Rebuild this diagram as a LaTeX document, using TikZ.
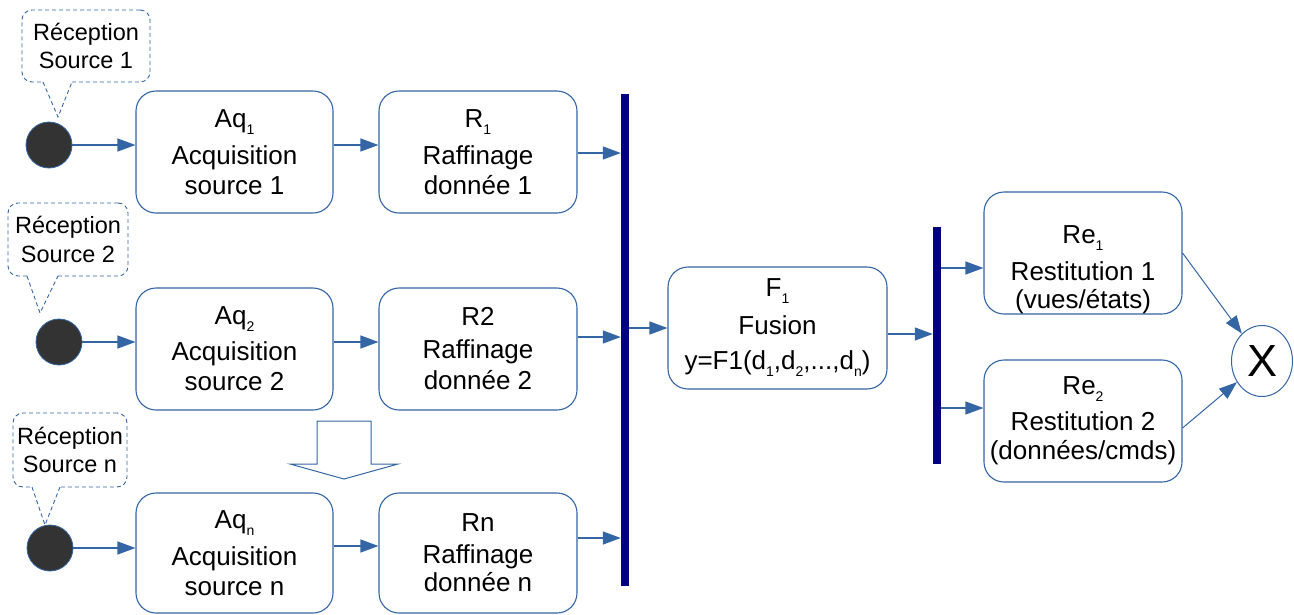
\documentclass[tikz,border=0pt]{standalone}
\usepackage{fontspec}
\setmainfont{Liberation Sans}
\usetikzlibrary{arrows.meta,calc,shapes.geometric}
\definecolor{lineblue}{HTML}{3465A4}
\definecolor{bardark}{HTML}{000080}
\definecolor{dotfill}{HTML}{333333}
% lowered small index, as in Aq_1
\newcommand\idx[1]{\raisebox{-7pt}{\fontsize{14}{14}\selectfont #1}}

\begin{document}
\begin{tikzpicture}[x=1pt,y=-1pt,
  box/.style={draw=lineblue, line width=1.1pt, rounded corners=20pt, fill=white,
    minimum width=197pt, minimum height=122pt, inner sep=0pt, align=center,
    font=\fontsize{26}{30}\selectfont},
  boxtext/.style={inner sep=0pt, align=center, font=\fontsize{26}{30}\selectfont},
  callout/.style={draw=lineblue, line width=0.9pt, dash pattern=on 4pt off 3pt},
  calloutbox/.style={callout, rounded corners=10pt, inner sep=0pt, align=center,
    font=\fontsize{23.5}{28.5}\selectfont},
  src/.style={circle, fill=dotfill, draw=lineblue, line width=0.8pt,
    minimum size=46pt, inner sep=0pt},
  bar/.style={fill=bardark, draw=none, minimum width=8pt, inner sep=0pt},
  flow/.style={draw=lineblue, line width=1.2pt, -{Triangle[length=18pt,width=13pt]}},
  blockarrow/.style={draw=lineblue, line width=1pt, fill=white}
]
\useasboundingbox (0,0) rectangle (1294,614);

% ---- reception callouts ----
\node[calloutbox, minimum width=128pt, minimum height=72pt] (cb1) at (86,46) {Réception\\Source 1};
\fill[white] (44,80) rectangle (71,84);
\draw[callout] (43,82) -- (58,117) -- (72,82);

\node[calloutbox, minimum width=120pt, minimum height=73pt] (cb2) at (68,239.5) {Réception\\Source 2};
\fill[white] (28,274) rectangle (57,278);
\draw[callout] (27,276) -- (40,313) -- (58,276);

\node[calloutbox, minimum width=114pt, minimum height=74pt] (cbn) at (70,450) {Réception\\Source n};
\fill[white] (33,485) rectangle (59,489);
\draw[callout] (32,487) -- (45,525) -- (60,487);

% ---- sources ----
\node[src] (c1) at (49,145) {};
\node[src] (c2) at (59,342) {};
\node[src] (cn) at (50,548) {};

% ---- acquisition and refinement stages ----
\node[box] (aq1) at (234.5,152) {Aq\idx1\\[7pt]Acquisition\\source 1};
\node[box, minimum width=198pt] (r1) at (478,152) {R\idx1\\[7pt]Raffinage\\donnée 1};
\node[box] (aq2) at (234.5,349) {Aq\idx2\\[6pt]Acquisition\\source 2};
\node[box, minimum width=198pt] (r2) at (478,349) {R2\\[3pt]Raffinage\\[1pt]donnée 2};
\node[box, minimum height=120pt] (aqn) at (234.5,553) {Aq\idx{n}\\[7pt]Acquisition\\source n};
\node[box, minimum width=198pt, minimum height=120pt] (rn) at (478,553) {Rn\\[2pt]Raffinage\\[-2pt]donnée n};

% ---- synchronisation bars ----
\node[bar, minimum height=492pt] (bar1) at (625,340) {};
\node[bar, minimum height=237pt] (bar2) at (937,345.5) {};

% ---- fusion and restitution ----
\node[box, minimum width=219pt] (f1) at (777.5,328) {F\idx1\\[8pt]Fusion\\[5pt]y=F1(d\idx1,d\idx2,...,d\idx{n})};
\node[box, minimum width=198pt] (re1) at (1083,253) {};
\node[boxtext] (re1t) at ([yshift=-17pt]re1.center) {Re\idx1\\[7pt]Restitution 1\\[-2pt](vues/états)};
\node[box, minimum width=198pt] (re2) at (1083,421) {Re\idx2\\[6pt]Restitution 2\\[-1pt](données/cmds)};
\node[ellipse, draw=lineblue, line width=1pt, fill=white, minimum width=61pt, minimum height=71pt,
  inner sep=0pt, font=\fontsize{45}{45}\selectfont] (xo) at (1262,361) {X};

% ---- block arrow between the second and the n-th chain ----
\draw[blockarrow] (317,421) -- (371,421) -- (371,464) -- (398,464) -- (344,479)
  -- (290,464) -- (317,464) -- cycle;

% ---- connectors ----
\draw[flow] (c1.east) -- (c1.east -| aq1.west);
\draw[flow] (aq1.east |- c1) -- (r1.west |- c1);
\draw[flow] ([yshift=-1pt]r1.east) -- ([yshift=-1pt]r1.east -| bar1.west);

\draw[flow] (c2.east) -- (c2.east -| aq2.west);
\draw[flow] (aq2.east |- c2) -- (r2.west |- c2);
\draw[flow] ([yshift=12pt]r2.east) -- ([yshift=12pt]r2.east -| bar1.west);

\draw[flow] (cn.east) -- (cn.east -| aqn.west);
\draw[flow] ([yshift=7pt]aqn.east) -- ([yshift=7pt]rn.west);
\draw[flow] ([yshift=15pt]rn.east) -- ([yshift=15pt]rn.east -| bar1.west);

\draw[flow] (bar1.east |- f1.west) -- (f1.west);
\draw[flow] ([yshift=-6pt]f1.east) -- ([yshift=-6pt]f1.east -| bar2.west);
\draw[flow] ([yshift=-15pt]re1.west -| bar2.east) -- ([yshift=-15pt]re1.west);
\draw[flow] ([yshift=13pt]re2.west -| bar2.east) -- ([yshift=13pt]re2.west);

\draw[flow, line width=1pt] (re1.east) -- (xo);
\draw[flow, line width=1pt] ([yshift=-7pt]re2.east) -- (xo);
\end{tikzpicture}
\end{document}
